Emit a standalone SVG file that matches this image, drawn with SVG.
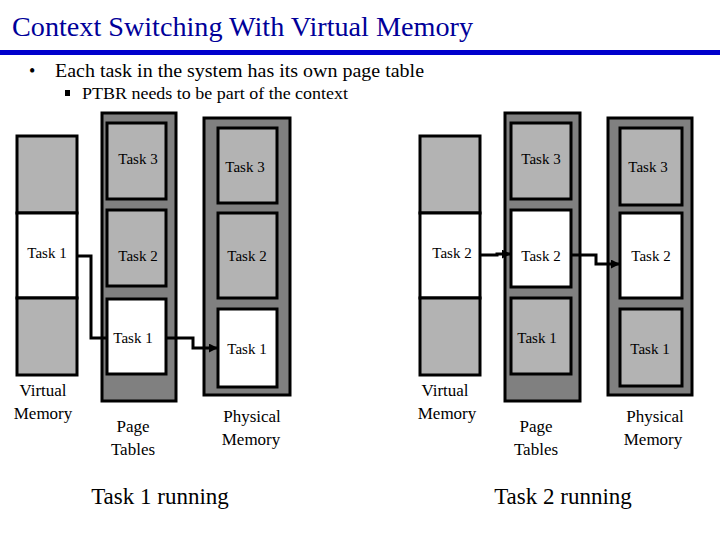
<svg xmlns="http://www.w3.org/2000/svg" width="720" height="540" viewBox="0 0 720 540">
<defs>
<style>
text{font-family:"Liberation Serif",serif;fill:#000}
.g{fill:#b3b3b3;stroke:#000;stroke-width:3}
.w{fill:#fff;stroke:#000;stroke-width:3}
.o{fill:#808080;stroke:#000;stroke-width:3}
.t{font-size:15px}
.l{font-size:17px}
.c{fill:none;stroke:#000;stroke-width:3}
</style>
<marker id="a" viewBox="0 0 10 10" refX="9" refY="5" markerWidth="3" markerHeight="3" orient="auto"><path d="M0,0L10,5L0,10z"/></marker>
</defs>
<rect width="720" height="540" fill="#fff"/>
<text x="12" y="36" font-size="27" style="fill:#000099" textLength="461" lengthAdjust="spacingAndGlyphs">Context Switching With Virtual Memory</text>
<rect x="0" y="50" width="720" height="5" fill="#0000cc"/>
<text x="29" y="77" font-size="18">•</text>
<text x="55" y="77" font-size="18" textLength="369" lengthAdjust="spacingAndGlyphs">Each task in the system has its own page table</text>
<rect x="65" y="90" width="5" height="6" fill="#000"/>
<text x="82" y="99" font-size="16" textLength="266" lengthAdjust="spacingAndGlyphs">PTBR needs to be part of the context</text>

<g id="vm1"><rect class="g" x="17" y="136" width="60" height="77"/><rect class="w" x="17" y="213" width="60" height="85"/><rect class="g" x="17" y="298" width="60" height="77"/>
<text class="t" x="47" y="258" text-anchor="middle">Task 1</text>
<text class="l" x="43" y="396" text-anchor="middle">Virtual</text><text class="l" x="43" y="419" text-anchor="middle">Memory</text></g>
<g id="pt1"><rect class="o" x="102" y="113" width="74" height="288"/>
<rect class="g" x="107" y="123" width="59" height="76"/><rect class="g" x="107" y="210" width="59" height="76"/><rect class="w" x="107" y="299" width="59" height="75"/>
<text class="t" x="138" y="164" text-anchor="middle">Task 3</text><text class="t" x="138" y="261" text-anchor="middle">Task 2</text><text class="t" x="133" y="343" text-anchor="middle">Task 1</text>
<text class="l" x="133" y="432" text-anchor="middle">Page</text><text class="l" x="133" y="455" text-anchor="middle">Tables</text></g>
<g id="pm1"><rect class="o" x="204" y="118" width="86" height="277"/>
<rect class="g" x="218" y="128" width="59" height="75"/><rect class="g" x="218" y="213" width="59" height="85"/><rect class="w" x="218" y="309" width="59" height="78"/>
<text class="t" x="245" y="172" text-anchor="middle">Task 3</text><text class="t" x="247" y="261" text-anchor="middle">Task 2</text><text class="t" x="247" y="354" text-anchor="middle">Task 1</text>
<text class="l" x="252" y="422" text-anchor="middle">Physical</text><text class="l" x="251" y="445" text-anchor="middle">Memory</text></g>
<text x="160" y="504" font-size="23" text-anchor="middle">Task 1 running</text>

<g id="vm2"><rect class="g" x="420" y="136" width="60" height="77"/><rect class="w" x="420" y="213" width="60" height="85"/><rect class="g" x="420" y="298" width="60" height="77"/>
<text class="t" x="452" y="258" text-anchor="middle">Task 2</text>
<text class="l" x="445" y="396" text-anchor="middle">Virtual</text><text class="l" x="447" y="419" text-anchor="middle">Memory</text></g>
<g id="pt2"><rect class="o" x="505" y="113" width="75" height="288"/>
<rect class="g" x="511" y="123" width="60" height="76"/><rect class="w" x="511" y="210" width="60" height="77"/><rect class="g" x="511" y="298" width="60" height="76"/>
<text class="t" x="541" y="164" text-anchor="middle">Task 3</text><text class="t" x="541" y="261" text-anchor="middle">Task 2</text><text class="t" x="537" y="343" text-anchor="middle">Task 1</text>
<text class="l" x="536" y="432" text-anchor="middle">Page</text><text class="l" x="536" y="455" text-anchor="middle">Tables</text></g>
<g id="pm2"><rect class="o" x="608" y="118" width="84" height="277"/>
<rect class="g" x="620" y="128" width="62" height="77"/><rect class="w" x="620" y="213" width="62" height="85"/><rect class="g" x="620" y="309" width="62" height="77"/>
<text class="t" x="648" y="172" text-anchor="middle">Task 3</text><text class="t" x="651" y="261" text-anchor="middle">Task 2</text><text class="t" x="650" y="354" text-anchor="middle">Task 1</text>
<text class="l" x="655" y="422" text-anchor="middle">Physical</text><text class="l" x="653" y="445" text-anchor="middle">Memory</text></g>
<text x="563" y="504" font-size="23" text-anchor="middle">Task 2 running</text>

<g id="connectors">
<path class="c" d="M77,256H91V338H107"/>
<path class="c" d="M166,338H193V348H217" marker-end="url(#a)"/>
<path class="c" d="M480,255H497V254H510" marker-end="url(#a)"/>
<path class="c" d="M571,255H596V264H619" marker-end="url(#a)"/>
</g>
</svg>
